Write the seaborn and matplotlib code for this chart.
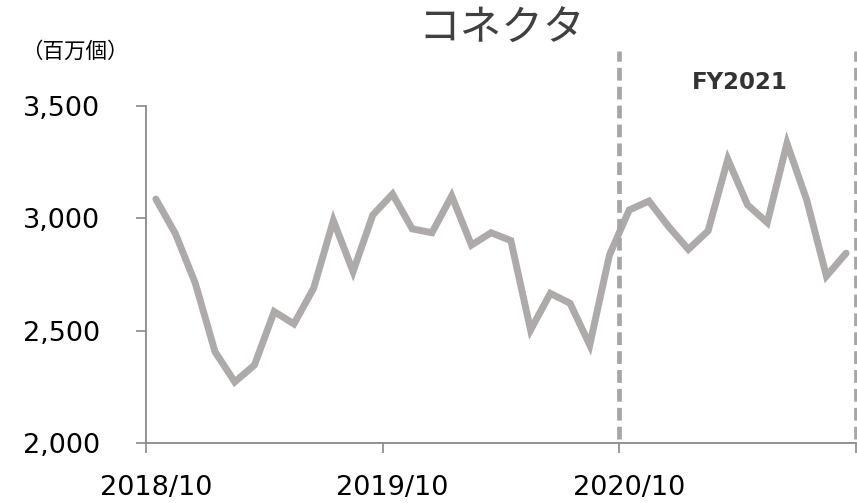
import numpy as np
import pandas as pd
import matplotlib
matplotlib.use('Agg')
import matplotlib.pyplot as plt
import seaborn as sns

# monthly categories, 2018/10 - 2021/09
months = ['2018/10', '2018/11', '2018/12', '2019/01', '2019/02', '2019/03',
          '2019/04', '2019/05', '2019/06', '2019/07', '2019/08', '2019/09',
          '2019/10', '2019/11', '2019/12', '2020/01', '2020/02', '2020/03',
          '2020/04', '2020/05', '2020/06', '2020/07', '2020/08', '2020/09',
          '2020/10', '2020/11', '2020/12', '2021/01', '2021/02', '2021/03',
          '2021/04', '2021/05', '2021/06', '2021/07', '2021/08', '2021/09']
# connectors, million units
volume = [3086, 2930, 2711, 2406, 2272, 2347, 2585, 2530, 2689, 2990, 2763, 3015,
          3108, 2953, 2936, 3100, 2881, 2936, 2901, 2503, 2666, 2622, 2436, 2837,
          3037, 3077, 2963, 2862, 2944, 3263, 3060, 2981, 3334, 3082, 2743, 2845]
tick_labels = ['2018/10', '2019/10', '2020/10']
y_ticks = [2000, 2500, 3000, 3500]

df = pd.DataFrame({'month': months, 'volume': volume})
df['idx'] = np.arange(len(df))

sns.set_theme(style="white")
plt.rcParams['font.family'] = ['DejaVu Sans', 'Noto Sans CJK JP']
cjk = ['Noto Sans CJK JP', 'DejaVu Sans']

fig = plt.figure(figsize=(8.57, 5.03), dpi=100)
ax = fig.add_axes([146 / 857, 1 - 443 / 503, 710 / 857, 337 / 503])

sns.lineplot(data=df, x='idx', y='volume', ax=ax, color='#aeaaaa', linewidth=5,
             solid_joinstyle='miter')

ax.set_xlim(-0.5, len(months) - 0.5)
ax.set_ylim(2000, 3500)

# FY2021 boundary lines, drawn past the top of the axes
for xb in [23.5, 35.5]:
    ax.plot([xb, xb], [2020, 3745], color='#a6a6a6', linewidth=3.4,
            dashes=(2.7, 1.3), clip_on=False, zorder=3)
ax.text(29.6, 3605, 'FY2021', ha='center', va='center', fontsize=16.5,
        fontweight='bold', color='#333333', clip_on=False)

ax.set_yticks(y_ticks)
ax.set_yticklabels([f'{v:,}' for v in y_ticks])
ax.tick_params(axis='y', length=7, width=1.2, color='#898989', pad=26,
               labelsize=19.5, left=True, labelcolor='black')

pos = [months.index(t) for t in tick_labels]
ax.set_xticks(pos)
ax.set_xticklabels(tick_labels)
ax.set_xticks([-0.5, 11.5, 23.5, 35.5], minor=True)
ax.tick_params(axis='x', which='major', length=0, pad=23, labelsize=19.5,
               labelcolor='black')
ax.tick_params(axis='x', which='minor', length=7, width=1.2, color='#898989',
               bottom=True)

for side in ['top', 'right']:
    ax.spines[side].set_visible(False)
for side in ['left', 'bottom']:
    ax.spines[side].set_color('#898989')
    ax.spines[side].set_linewidth(1.3)

ax.set_xlabel('')
ax.set_ylabel('')
ax.grid(False)

fig.text(502 / 857, 1 - 29 / 503, 'コネクタ', ha='center', va='center',
         fontsize=30, color='#404040', family=cjk)
fig.text(75 / 857, 1 - 52 / 503, '（百万個）', ha='center', va='center',
         fontsize=15.5, color='black', family=cjk)

fig.savefig('out.png', dpi=100)
